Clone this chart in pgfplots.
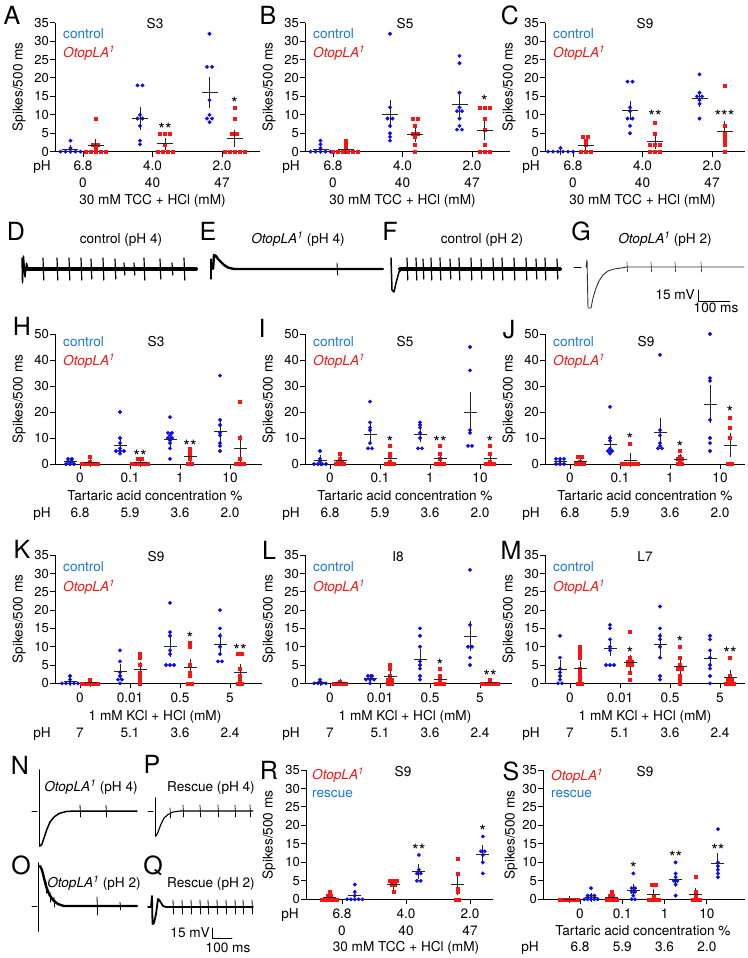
\documentclass[border=0pt]{standalone}
\usepackage{fontspec}
\setmainfont{TeX Gyre Heros}
\usepackage{pgfplots}
\pgfplotsset{compat=1.18}
\definecolor{cblue}{RGB}{10,10,245}
\definecolor{cred}{RGB}{250,20,20}
\definecolor{lblue}{RGB}{25,120,215}
\newcommand{\fs}{\fontsize{13.6}{15}\selectfont}
\newcommand{\fk}{\fontsize{13}{15}\selectfont}
\newcommand{\ft}{\fontsize{13.6}{15}\selectfont}
\newcommand{\T}[4][]{\node[anchor=base,inner sep=0pt,font=\fs,yshift=-4.9pt,#1] at (#2pt,-#3pt) {#4};}
\newcommand{\PL}[3]{\node[anchor=base,inner sep=0pt,font=\fontsize{25}{28}\selectfont,yshift=-9pt] at (#1pt,-#2pt) {#3};}
\newcommand{\Ot}{\textit{OtopLA\textsuperscript{1}}}
\newcommand{\YL}[2]{\node[rotate=90,font=\fs,inner sep=0pt] at (#1pt,-#2pt) {Spikes/500 ms};}
\tikzset{st/.style={font=\fontsize{17}{18}\selectfont, inner sep=0pt, yshift=-3.7pt}}
\pgfplotsset{
 sc/.style={anchor=south west, axis lines=left, axis line style={-,line width=1pt}, tick style={line width=1pt,black}, tick align=outside, major tick length=5pt, ymin=0, clip=false, xticklabels={}, yticklabel style={font=\fk, inner sep=0pt, xshift=-1pt}, /pgf/number format/assume math mode=true},
 bpt/.style={only marks, mark=*, mark size=1.75pt, color=cblue, mark options={draw=none, fill=cblue}},
 rpt/.style={only marks, mark=square*, mark size=1.5pt, color=cred, mark options={draw=none, fill=cred}},
 ms/.style={only marks, mark=-, mark size=#1, mark options={line width=1pt, black!85}, black!85, error bars/.cd, y dir=both, y explicit, error bar style={line width=1pt, black!85}, error mark options={line width=1pt, black!85, mark size=3.5pt}},
 ms/.default=8pt,
 tr/.style={black, line join=round, line cap=round},
}
\begin{document}
\begin{tikzpicture}
\path[use as bounding box] (0,0) rectangle (747pt,-958pt);
% ---------------- A
\begin{axis}[sc, at={(55pt,-151.7pt)}, x=69.5pt, y=3.6857pt, xmin=-0.403, xmax=2.547, ymax=35, ytick={0,5,...,35}, xtick={0,1,2}]
\addplot[bpt] coordinates {(-0.18,3)(-0.18,1)(-0.324,0)(-0.252,0)(-0.18,0)(-0.108,0)(-0.036,0)
(0.784,18)(0.856,18)(0.82,10)(0.784,9)(0.856,9)(0.82,7)(0.82,3)(0.82,2)
(1.82,32)(1.784,23)(1.856,23)(1.82,14)(1.82,10)(1.784,9)(1.856,9)(1.82,8)};
\addplot[rpt] coordinates {(0.18,9)(0.144,2)(0.216,2)(0.18,1)(0.036,0)(0.108,0)(0.18,0)(0.252,0)(0.324,0)
(1.108,5)(1.18,5)(1.252,5)(1.18,2)(1.072,0)(1.144,0)(1.216,0)(1.288,0)
(2.18,12)(2.18,9)(2.144,5)(2.216,5)(2.036,0)(2.108,0)(2.18,0)(2.252,0)(2.324,0)};
\addplot[ms] coordinates {(-0.18,0.6)+-(0,0.4)(0.82,9.1)+-(0,2.2)(1.82,16)+-(0,3.2)(0.18,1.6)+-(0,0.8)(1.18,2.1)+-(0,0.6)(2.18,3.6)+-(0,1.4)};
\node[st] at (axis cs:1.18,7) {**};
\node[st] at (axis cs:2.18,14.2) {*};
\end{axis}
% ---------------- B
\begin{axis}[sc, at={(305pt,-151.7pt)}, x=69.5pt, y=3.6857pt, xmin=-0.403, xmax=2.547, ymax=35, ytick={0,5,...,35}, xtick={0,1,2}]
\addplot[bpt] coordinates {(-0.18,3)(-0.18,2)(-0.18,1)(-0.324,0)(-0.252,0)(-0.18,0)(-0.108,0)(-0.036,0)
(0.82,32)(0.82,12)(0.784,9)(0.856,9)(0.82,7)(0.82,5)(0.82,4)(0.82,3)
(1.82,26)(1.82,24)(1.82,16)(1.82,12)(1.784,11)(1.856,11)(1.82,9)(1.82,7)(1.784,6)(1.856,6)};
\addplot[rpt] coordinates {(0.18,3)(0.18,2)(0.18,1)(0.0,0)(0.072,0)(0.144,0)(0.216,0)(0.288,0)(0.36,0)
(1.144,9)(1.216,9)(1.18,7)(1.144,5)(1.216,5)(1.18,4)(1.18,2)(1.18,0)
(2.108,12)(2.18,12)(2.252,12)(2.18,9)(2.18,6)(2.18,2)(2.108,0)(2.18,0)(2.252,0)};
\addplot[ms] coordinates {(-0.18,0.7)+-(0,0.35)(0.82,10.2)+-(0,2.8)(1.82,12.7)+-(0,2.2)(0.18,0.5)+-(0,0.3)(1.18,4.6)+-(0,1.0)(2.18,5.8)+-(0,1.8)};
\node[st] at (axis cs:2.18,14.6) {*};
\end{axis}
% ---------------- C
\begin{axis}[sc, at={(545pt,-151.7pt)}, x=69.5pt, y=3.6857pt, xmin=-0.403, xmax=2.475, ymax=35, ytick={0,5,...,35}, xtick={0,1,2}]
\addplot[bpt] coordinates {(-0.18,1)(-0.36,0)(-0.288,0)(-0.216,0)(-0.144,0)(-0.072,0)(0.0,0)
(0.784,19)(0.856,19)(0.82,12)(0.82,11)(0.784,9)(0.856,9)(0.82,7)(0.82,5)
(1.82,21)(1.82,16)(1.784,15)(1.856,15)(1.82,14)(1.82,13)(1.82,9)};
\addplot[rpt] coordinates {(0.144,4)(0.216,4)(0.18,3)(0.18,2)(0.108,0)(0.18,0)(0.252,0)
(1.18,8)(1.18,5)(1.108,2)(1.18,2)(1.252,2)(1.108,0)(1.18,0)(1.252,0)
(2.18,18)(2.18,7)(2.18,5)(2.18,4)(2.18,3)(2.18,2)(2.18,0)};
\addplot[ms] coordinates {(-0.18,0.15)+-(0,0.15)(0.82,11.1)+-(0,1.6)(1.82,14.3)+-(0,1.3)(0.18,1.6)+-(0,0.6)(1.18,2.8)+-(0,1.0)(2.18,5.5)+-(0,1.9)};
\node[st] at (axis cs:1.18,10.6) {**};
\node[st] at (axis cs:2.18,10.6) {***};
\end{axis}
% ---------------- H
\begin{axis}[sc, at={(55pt,-464pt)}, x=50pt, y=2.6pt, xmin=-0.5, xmax=3.64, ymax=50, ytick={0,10,...,50}, xtick={0,1,2,3}]
\addplot[bpt] coordinates {(-0.24,2)(-0.16,2)(-0.24,1)(-0.16,1)(-0.28,0)(-0.2,0)(-0.12,0)
(0.8,20)(0.8,10)(0.8,8)(0.8,6)(0.72,5)(0.8,5)(0.88,5)(0.8,4)
(1.8,18)(1.76,12)(1.84,12)(1.8,11)(1.76,10)(1.84,10)(1.8,9)(1.8,8)(1.8,6)(1.8,2)
(2.8,34)(2.8,17)(2.8,15)(2.8,12)(2.8,11)(2.8,8)(2.8,7)(2.8,5)};
\addplot[rpt] coordinates {(0.2,3)(0.2,1)(0.04,0)(0.12,0)(0.2,0)(0.28,0)(0.36,0)
(1.16,2)(1.24,2)(1.04,0)(1.12,0)(1.2,0)(1.28,0)(1.36,0)
(2.2,6)(2.2,5)(2.2,4)(2.2,3)(2.2,2)(2.16,0)(2.24,0)
(3.2,24)(3.2,10)(3.2,2)(3.12,0)(3.2,0)(3.28,0)};
\addplot[ms=6.5pt] coordinates {(-0.2,0.8)+-(0,0.3)(0.8,7.3)+-(0,1.6)(1.8,9.4)+-(0,1.4)(2.8,12.6)+-(0,3.2)(0.2,0.5)+-(0,0.4)(1.2,0.5)+-(0,0.3)(2.2,2.8)+-(0,0.8)(3.2,5.8)+-(0,4.0)};
\node[st] at (axis cs:1.2,4.4) {**};
\node[st] at (axis cs:2.2,8.2) {**};
\end{axis}
% ---------------- I
\begin{axis}[sc, at={(305pt,-464pt)}, x=50pt, y=2.6pt, xmin=-0.5, xmax=3.64, ymax=50, ytick={0,10,...,50}, xtick={0,1,2,3}]
\addplot[bpt] coordinates {(-0.2,5)(-0.2,2)(-0.2,1)(-0.32,0)(-0.24,0)(-0.16,0)(-0.08,0)
(0.8,24)(0.8,16)(0.8,14)(0.8,13)(0.8,8)(0.76,6)(0.84,6)
(1.8,16)(1.8,15)(1.8,14)(1.8,12)(1.8,10)(1.76,6)(1.84,6)
(2.8,45)(2.8,36)(2.8,13)(2.8,12)(2.76,7)(2.84,7)};
\addplot[rpt] coordinates {(0.2,4)(0.2,2)(0.16,1)(0.24,1)(0.12,0)(0.2,0)(0.28,0)
(1.2,7)(1.2,4)(1.2,3)(1.2,1)(1.12,0)(1.2,0)(1.28,0)
(2.2,7)(2.2,4)(2.2,2)(2.12,0)(2.2,0)(2.28,0)
(3.2,7)(3.2,4)(3.2,1)(3.12,0)(3.2,0)(3.28,0)};
\addplot[ms=6.5pt] coordinates {(-0.2,1.3)+-(0,0.8)(0.8,11.5)+-(0,2.6)(1.8,11.5)+-(0,1.8)(2.8,20)+-(0,6.5)(0.2,1.2)+-(0,0.6)(1.2,2.3)+-(0,1.0)(2.2,2.3)+-(0,1.0)(3.2,2.0)+-(0,1.2)};
\node[st] at (axis cs:1.2,9.9) {*};
\node[st] at (axis cs:2.2,9.9) {**};
\node[st] at (axis cs:3.2,9.9) {*};
\end{axis}
% ---------------- J
\begin{axis}[sc, at={(545pt,-464pt)}, x=50pt, y=2.6pt, xmin=-0.5, xmax=3.5, ymax=50, ytick={0,10,...,50}, xtick={0,1,2,3}]
\addplot[bpt] coordinates {(-0.28,2)(-0.2,2)(-0.12,2)(-0.2,1)(-0.28,0)(-0.2,0)(-0.12,0)
(0.8,22)(0.8,10)(0.8,9)(0.8,6)(0.76,5)(0.84,5)(0.8,4)
(1.8,42)(1.8,13)(1.8,11)(1.8,8)(1.8,7)(1.76,6)(1.84,6)
(2.8,50)(2.8,33)(2.8,32)(2.8,17)(2.8,10)(2.8,8)(2.8,5)};
\addplot[rpt] coordinates {(0.16,3)(0.24,3)(0.2,1)(0.12,0)(0.2,0)(0.28,0)
(1.2,8)(1.04,0)(1.12,0)(1.2,0)(1.28,0)(1.36,0)
(2.2,5)(2.2,3)(2.16,2)(2.24,2)(2.2,1)(2.16,0)(2.24,0)
(3.2,18)(3.2,14)(3.2,10)(3.16,0)(3.24,0)};
\addplot[ms=6.5pt] coordinates {(-0.2,0.9)+-(0,0.3)(0.8,7.5)+-(0,2.4)(1.8,12.1)+-(0,4.4)(2.8,23)+-(0,6)(0.2,1.0)+-(0,0.5)(1.2,1.5)+-(0,1.2)(2.2,1.8)+-(0,0.7)(3.2,7.3)+-(0,3.1)};
\node[st] at (axis cs:1.2,10.8) {*};
\node[st] at (axis cs:2.2,7.7) {*};
\node[st] at (axis cs:3.2,21.2) {*};
\end{axis}
% ---------------- K
\begin{axis}[sc, at={(55pt,-683.3pt)}, x=50pt, y=3.657pt, xmin=-0.5, xmax=3.64, ymax=35, ytick={0,5,...,35}, xtick={0,1,2,3}]
\addplot[bpt] coordinates {(-0.2,2)(-0.2,1)(-0.36,0)(-0.28,0)(-0.2,0)(-0.12,0)(-0.04,0)
(0.8,9)(0.8,6)(0.8,3)(0.8,2)(0.76,1)(0.84,1)(0.8,0)
(1.8,22)(1.8,14)(1.8,13)(1.8,9)(1.8,8)(1.72,5)(1.8,5)(1.88,5)
(2.8,20)(2.8,15)(2.8,13)(2.8,10)(2.8,8)(2.76,6)(2.84,6)};
\addplot[rpt] coordinates {(0.2,1)(0.04,0)(0.12,0)(0.2,0)(0.28,0)(0.36,0)
(1.2,8)(1.2,7)(1.2,5)(1.2,3)(1.2,2)(1.2,1)(1.2,0)
(2.2,11)(2.2,10)(2.2,5)(2.2,3)(2.2,2)(2.16,0)(2.24,0)
(3.16,8)(3.24,8)(3.2,4)(3.2,2)(3.2,1)(3.16,0)(3.24,0)};
\addplot[ms=6.5pt] coordinates {(-0.2,0.4)+-(0,0.3)(0.8,3.1)+-(0,1.3)(1.8,10.1)+-(0,2.0)(2.8,10.7)+-(0,2.0)(0.2,0.2)+-(0,0.2)(1.2,3.7)+-(0,1.1)(2.2,4.2)+-(0,1.6)(3.2,3.0)+-(0,1.2)};
\node[st] at (axis cs:2.2,13.2) {*};
\node[st] at (axis cs:3.2,10) {**};
\end{axis}
% ---------------- L
\begin{axis}[sc, at={(305pt,-683.3pt)}, x=50pt, y=3.657pt, xmin=-0.5, xmax=3.64, ymax=35, ytick={0,5,...,35}, xtick={0,1,2,3}]
\addplot[bpt] coordinates {(-0.2,1)(-0.2,0.5)(-0.32,0)(-0.24,0)(-0.16,0)(-0.08,0)
(0.76,2)(0.84,2)(0.72,1)(0.8,1)(0.88,1)(0.8,0)
(1.8,15)(1.8,13)(1.8,10)(1.8,6)(1.8,5)(1.8,4)(1.8,2)(1.8,1)
(2.8,31)(2.8,16)(2.76,10)(2.84,10)(2.8,7)(2.8,5)};
\addplot[rpt] coordinates {(0.2,0.5)(0.08,0)(0.16,0)(0.24,0)(0.32,0)
(1.2,5)(1.2,4)(1.2,2)(1.16,1)(1.24,1)(1.16,0)(1.24,0)
(2.2,4)(2.2,2)(2.2,1)(2.12,0)(2.2,0)(2.28,0)
(3.2,1)(3.04,0)(3.12,0)(3.2,0)(3.28,0)(3.36,0)};
\addplot[ms=6.5pt] coordinates {(-0.2,0.3)+-(0,0.2)(0.8,1.2)+-(0,0.3)(1.8,6.6)+-(0,1.8)(2.8,12.9)+-(0,3.2)(0.2,0.2)+-(0,0.1)(1.2,1.9)+-(0,0.7)(2.2,1.1)+-(0,0.6)(3.2,0.3)+-(0,0.2)};
\node[st] at (axis cs:2.2,5.9) {*};
\node[st] at (axis cs:3.2,3.0) {**};
\end{axis}
% ---------------- M
\begin{axis}[sc, at={(545pt,-683.3pt)}, x=50pt, y=3.657pt, xmin=-0.5, xmax=3.5, ymax=35, ytick={0,5,...,35}, xtick={0,1,2,3}]
\addplot[bpt] coordinates {(-0.2,13)(-0.2,7)(-0.2,4)(-0.2,3)(-0.2,2)(-0.2,1)(-0.24,0)(-0.16,0)
(0.8,16)(0.8,15)(0.8,12)(0.8,10)(0.8,9)(0.72,5)(0.8,5)(0.88,5)
(1.8,21)(1.8,15)(1.8,13)(1.8,12)(1.8,10)(1.8,7)(1.8,2)(1.8,1)
(2.8,13)(2.8,12)(2.8,9)(2.8,7)(2.8,5)(2.8,4)(2.8,2)(2.8,0)};
\addplot[rpt] coordinates {(0.2,10)(0.2,9)(0.2,8)(0.2,7)(0.2,4)(0.2,3)(0.2,2)(0.2,1)(0.16,0)(0.24,0)
(1.2,14)(1.2,7)(1.16,6)(1.24,6)(1.16,5)(1.24,5)(1.2,3)(1.2,1)
(2.2,10)(2.2,7)(2.2,5)(2.16,4)(2.24,4)(2.2,2)(2.2,1)(2.2,0)
(3.2,7)(3.2,2)(3.16,1)(3.24,1)(3.12,0)(3.2,0)(3.28,0)};
\addplot[ms=6.5pt] coordinates {(-0.2,3.8)+-(0,1.5)(0.8,9.5)+-(0,1.2)(1.8,10.6)+-(0,2.2)(2.8,6.8)+-(0,1.4)(0.2,4.0)+-(0,1.2)(1.2,5.6)+-(0,1.3)(2.2,4.5)+-(0,1.0)(3.2,1.7)+-(0,0.9)};
\node[st] at (axis cs:1.2,9.1) {*};
\node[st] at (axis cs:2.2,12.3) {*};
\node[st] at (axis cs:3.2,9.1) {**};
\end{axis}
% ---------------- R
\begin{axis}[sc, at={(306pt,-899.3pt)}, x=64pt, y=3.694pt, xmin=-0.5625, xmax=2.36, ymax=35, ytick={0,5,...,35}, xtick={0,1,2}]
\addplot[rpt] coordinates {(-0.2,2)(-0.23,1)(-0.17,1)(-0.32,0)(-0.26,0)(-0.2,0)(-0.14,0)(-0.08,0)
(0.74,5)(0.8,5)(0.86,5)(0.77,4)(0.83,4)(0.8,2)
(1.8,11)(1.8,7)(1.8,3)(1.8,2)(1.77,0)(1.83,0)};
\addplot[bpt] coordinates {(0.2,4)(0.2,2)(0.2,1)(0.08,0)(0.14,0)(0.2,0)(0.26,0)(0.32,0)
(1.2,12)(1.2,8)(1.17,7)(1.23,7)(1.17,5)(1.23,5)
(2.2,17)(2.17,13)(2.23,13)(2.2,12)(2.2,10)(2.2,7)};
\addplot[ms=6.5pt] coordinates {(-0.2,0.5)+-(0,0.3)(0.8,4.1)+-(0,0.5)(1.8,3.9)+-(0,1.8)(0.2,1.1)+-(0,0.6)(1.2,7.6)+-(0,1.1)(2.2,12.2)+-(0,1.5)};
\node[st] at (axis cs:1.2,14.4) {**};
\node[st] at (axis cs:2.2,19.4) {*};
\end{axis}
% ---------------- S
\begin{axis}[sc, at={(543pt,-899.3pt)}, x=42.3pt, y=3.694pt, xmin=-0.875, xmax=3.9, ymax=35, ytick={0,5,...,35}, xtick={0,1,2,3}]
\addplot[rpt] coordinates {(-0.47,0)(-0.40,0)(-0.33,0)(-0.26,0)(-0.19,0)(-0.12,0)(-0.05,0)
(0.74,2)(0.70,1)(0.78,1)(0.62,0)(0.70,0)(0.78,0)(0.86,0)
(1.70,4)(1.78,4)(1.74,1)(1.62,0)(1.70,0)(1.78,0)(1.86,0)
(2.74,6)(2.74,2)(2.74,1)(2.66,0)(2.74,0)(2.82,0)};
\addplot[bpt] coordinates {(0.26,3)(0.18,1)(0.26,1)(0.34,1)(0.10,0)(0.18,0)(0.26,0)(0.34,0)(0.42,0)
(1.26,7)(1.22,3)(1.30,3)(1.22,2)(1.30,2)(1.26,1)(1.22,0)(1.30,0)
(2.26,10)(2.26,7)(2.26,6)(2.22,5)(2.30,5)(2.26,4)(2.26,1)
(3.26,19)(3.26,10)(3.26,9)(3.26,8)(3.26,7)(3.26,6)};
\addplot[ms=6.5pt] coordinates {(-0.26,0)+-(0,0)(0.74,0.5)+-(0,0.3)(1.74,1.2)+-(0,0.7)(2.74,1.3)+-(0,0.8)(0.26,0.5)+-(0,0.3)(1.26,2.4)+-(0,0.8)(2.26,5.4)+-(0,1.0)(3.26,9.7)+-(0,1.9)};
\node[st] at (axis cs:1.26,9.3) {*};
\node[st] at (axis cs:2.26,12.3) {**};
\node[st] at (axis cs:3.26,14.2) {**};
\end{axis}
% ---------------- traces overlay
\begin{axis}[at={(0pt,0pt)}, anchor=north west, hide axis, x=1pt, y=1pt, xmin=0, xmax=747, ymin=0, ymax=958, y dir=reverse, clip=false]
% D
\addplot[tr, line width=4pt] coordinates {(27,269)(196,269)};
\addplot[tr, line width=1.4pt] coordinates {(22,258)(22.5,283)(23.5,256)(25,277)(26.5,263)(28,269)};
\addplot[tr, line width=1.2pt, unbounded coords=jump] coordinates {(43,258)(43.8,280)(43,nan)(57,258)(57.8,280)(57,nan)(69,258)(69.8,280)(69,nan)(81,258)(81.8,280)(81,nan)(91,259)(91.8,279)(91,nan)(103,258)(103.8,280)(103,nan)(115,259)(115.8,279)(115,nan)(124,263)(124.8,275)(124,nan)(134,263)(134.8,275)(134,nan)(144,258)(144.8,280)(144,nan)(160,259)(160.8,279)(160,nan)(172,263)(172.8,275)(172,nan)(184,258)(184.8,280)};
% E
\addplot[tr, line width=1.2pt] coordinates {(211,259)(211,279)};
\addplot[tr, line width=2.4pt] coordinates {(213,269)(214,255)(216,256)(218,259)(221,262)(224,265)(228,267.5)(234,269)(383,269)};
\addplot[tr, line width=0.9pt] coordinates {(337,263)(337.6,275)};
% F
\addplot[tr, line width=4pt] coordinates {(400,269)(560,269)};
\addplot[tr, line width=1.5pt] coordinates {(391,258)(392,290)(394,292)(396,283)(399,272)(402,269)};
\addplot[tr, line width=1.2pt, unbounded coords=jump] coordinates {(407,258)(407.8,280)(407,nan)(416,258)(416.8,280)(416,nan)(423,259)(423.8,279)(423,nan)(431,258)(431.8,280)(431,nan)(440,258)(440.8,280)(440,nan)(450,259)(450.8,279)(450,nan)(459,258)(459.8,280)(459,nan)(471,258)(471.8,280)(471,nan)(481,259)(481.8,279)(481,nan)(493,258)(493.8,280)(493,nan)(502,258)(502.8,280)(502,nan)(514,258)(514.8,280)(514,nan)(526,258)(526.8,280)(526,nan)(536,259)(536.8,279)(536,nan)(545,258)(545.8,280)(545,nan)(557,259)(557.8,279)};
% G
\addplot[tr, line width=1pt] coordinates {(574,267)(581,267)};
\addplot[tr, black!80, line width=0.9pt] coordinates {(586,267)(587,260)(588,308)(591,308)(593,298)(596,288)(599,281)(603,275)(608,271)(614,269)(621,268)(627,267)(744,267)};
\addplot[tr, black!80, line width=0.6pt, unbounded coords=jump] coordinates {(627,262)(627.6,272)(627,nan)(651,262)(651.6,272)(651,nan)(675,262)(675.6,272)(675,nan)(701,262)(701.6,272)};
\addplot[tr, line width=0.9pt] coordinates {(698,290)(698,301)(730,301)};
% N
\addplot[tr, line width=1pt] coordinates {(32,811)(37,811)};
\addplot[tr, line width=1.8pt] coordinates {(39.5,770)(39.5,846)};
\addplot[tr, line width=1.5pt] coordinates {(40,846)(42,844)(44,838)(47,829)(50,822)(54,817)(59,813.5)(66,811.5)(74,811)(137,811)};
\addplot[tr, line width=0.8pt, unbounded coords=jump] coordinates {(80,805)(80.6,817)(80,nan)(106,805)(106.6,817)};
% P
\addplot[tr, line width=1pt] coordinates {(148,811)(153,811)};
\addplot[tr, line width=1.5pt] coordinates {(155.5,798)(155.5,836)};
\addplot[tr, line width=1.1pt] coordinates {(156,836)(158,832)(161,824)(164,818)(168,814.5)(173,812)(180,811)(253,811)};
\addplot[tr, line width=0.7pt, unbounded coords=jump] coordinates {(170,808)(170.6,818)(170,nan)(183,805)(183.6,817)(183,nan)(200,805)(200.6,817)(200,nan)(218,805)(218.6,817)(218,nan)(235,805)(235.6,817)(235,nan)(250,805)(250.6,817)};
% O
\addplot[tr, line width=1pt] coordinates {(32,906)(37,906)};
\addplot[tr, line width=1.8pt] coordinates {(38.5,863)(38.5,931)};
\addplot[tr, line width=2.4pt] coordinates {(40,866)(42,870)(44,878)(46,886)(49,894)(53,900)(58,904)(64,906)(137,906)};
\addplot[tr, line width=0.8pt, unbounded coords=jump] coordinates {(46,881)(46.6,893)(46,nan)(50,892)(50.6,902)(50,nan)(54,897)(54.6,907)(54,nan)(97,897)(97.6,915)(97,nan)(120,902)(120.6,910)};
% Q
\addplot[tr, line width=1.8pt] coordinates {(148,907)(151,907)(152,896)(152.5,924)(154,923)(156,914)(158,899)(160,901)(163,906)(166,907)(253,907)};
\addplot[tr, line width=0.8pt, unbounded coords=jump] coordinates {(173,900)(173.6,914)(173,nan)(182,900)(182.6,914)(182,nan)(191,900)(191.6,914)(191,nan)(200,900)(200.6,914)(200,nan)(208,900)(208.6,914)(208,nan)(217,900)(217.6,914)(217,nan)(226,900)(226.6,914)(226,nan)(235,900)(235.6,914)(235,nan)(243,900)(243.6,914)(243,nan)(252,900)(252.6,914)};
\addplot[tr, line width=0.9pt] coordinates {(212,928)(212,938)(232,938)};
\end{axis}
% ---------------- texts
\PL{12}{15.5}{A}\PL{268}{15.5}{B}\PL{510}{15.5}{C}
\PL{16}{231}{D}\PL{208}{231}{E}\PL{390}{231}{F}\PL{581}{231}{G}
\PL{22}{326}{H}\PL{262}{328}{I}\PL{509}{329}{J}
\PL{22}{549}{K}\PL{269}{550}{L}\PL{511}{550}{M}
\PL{20}{765}{N}\PL{152}{764}{P}\PL{21}{865}{O}\PL{153}{865}{Q}\PL{269}{770}{R}\PL{511}{771}{S}
% titles
\T{155}{24}{S3}\T{405}{24}{S5}\T{645}{24}{S9}
\T{156}{342}{S3}\T{405}{342}{S5}\T{646}{342}{S9}
\T{156}{557}{S9}\T{398}{557}{I8}\T{645}{557}{L7}
\T{403}{772}{S9}\T{645}{772}{S9}
% legends
\T[anchor=base west,text=lblue]{63}{34}{control}\T[anchor=base west,text=cred]{63}{53}{\Ot}
\T[anchor=base west,text=lblue]{313}{34}{control}\T[anchor=base west,text=cred]{313}{53}{\Ot}
\T[anchor=base west,text=lblue]{553}{34}{control}\T[anchor=base west,text=cred]{553}{53}{\Ot}
\T[anchor=base west,text=lblue]{63}{342}{control}\T[anchor=base west,text=cred]{63}{361}{\Ot}
\T[anchor=base west,text=lblue]{313}{342}{control}\T[anchor=base west,text=cred]{313}{361}{\Ot}
\T[anchor=base west,text=lblue]{553}{342}{control}\T[anchor=base west,text=cred]{553}{361}{\Ot}
\T[anchor=base west,text=lblue]{63}{567}{control}\T[anchor=base west,text=cred]{63}{587}{\Ot}
\T[anchor=base west,text=lblue]{313}{567}{control}\T[anchor=base west,text=cred]{313}{587}{\Ot}
\T[anchor=base west,text=lblue]{553}{567}{control}\T[anchor=base west,text=cred]{553}{587}{\Ot}
\T[anchor=base west,text=cred]{312}{775}{\Ot}\T[anchor=base west,text=lblue]{312}{793}{rescue}
\T[anchor=base west,text=cred]{551}{776}{\Ot}\T[anchor=base west,text=lblue]{551}{793}{rescue}
% y labels
\YL{19}{87}\YL{269}{87}\YL{509}{87}
\YL{19}{399}\YL{269}{399}\YL{509}{399}
\YL{19}{619}\YL{269}{619}\YL{509}{619}
\YL{269}{835}\YL{511}{835}
% row 1 x labels
\T{42}{165.5}{pH}\T{83}{165.5}{6.8}\T{152.5}{165.5}{4.0}\T{222}{165.5}{2.0}
\T{83}{183}{0}\T{152.5}{183}{40}\T{222}{183}{47}\T{152.5}{200}{30 mM TCC + HCl (mM)}
\T{291}{165.5}{pH}\T{333}{165.5}{6.8}\T{402.5}{165.5}{4.0}\T{472}{165.5}{2.0}
\T{333}{183}{0}\T{402.5}{183}{40}\T{472}{183}{47}\T{402.5}{200}{30 mM TCC + HCl (mM)}
\T{531}{165.5}{pH}\T{573}{165.5}{6.8}\T{642.5}{165.5}{4.0}\T{712}{165.5}{2.0}
\T{573}{183}{0}\T{642.5}{183}{40}\T{712}{183}{47}\T{642.5}{200}{30 mM TCC + HCl (mM)}
% row 3 x labels
\T{80}{478}{0}\T{130}{478}{0.1}\T{180}{478}{1}\T{230}{478}{10}\T{155}{496}{Tartaric acid concentration \%}
\T{42}{513}{pH}\T{80}{513}{6.8}\T{130}{513}{5.9}\T{180}{513}{3.6}\T{230}{513}{2.0}
\T{330}{478}{0}\T{380}{478}{0.1}\T{430}{478}{1}\T{480}{478}{10}\T{405}{496}{Tartaric acid concentration \%}
\T{291}{513}{pH}\T{330}{513}{6.8}\T{380}{513}{5.9}\T{430}{513}{3.6}\T{480}{513}{2.0}
\T{570}{478}{0}\T{620}{478}{0.1}\T{670}{478}{1}\T{720}{478}{10}\T{645}{496}{Tartaric acid concentration \%}
\T{531}{513}{pH}\T{570}{513}{6.8}\T{620}{513}{5.9}\T{670}{513}{3.6}\T{720}{513}{2.0}
% row 4 x labels
\T{80}{698}{0}\T{130}{698}{0.01}\T{180}{698}{0.5}\T{230}{698}{5}\T{155}{716}{1 mM KCl + HCl (mM)}
\T{42}{733}{pH}\T{80}{733}{7}\T{130}{733}{5.1}\T{180}{733}{3.6}\T{230}{733}{2.4}
\T{330}{698}{0}\T{380}{698}{0.01}\T{430}{698}{0.5}\T{480}{698}{5}\T{405}{716}{1 mM KCl + HCl (mM)}
\T{291}{733}{pH}\T{330}{733}{7}\T{380}{733}{5.1}\T{430}{733}{3.6}\T{480}{733}{2.4}
\T{570}{698}{0}\T{620}{698}{0.01}\T{670}{698}{0.5}\T{720}{698}{5}\T{645}{716}{1 mM KCl + HCl (mM)}
\T{531}{733}{pH}\T{570}{733}{7}\T{620}{733}{5.1}\T{670}{733}{3.6}\T{720}{733}{2.4}
% R, S x labels
\T{290}{914}{pH}\T{342}{914}{6.8}\T{406}{914}{4.0}\T{470}{914}{2.0}
\T{342}{930.5}{0}\T{406}{930.5}{40}\T{470}{930.5}{47}\T{406}{947}{30 mM TCC + HCl (mM)}
\T{580}{914}{0}\T{622.3}{914}{0.1}\T{664.6}{914}{1}\T{706.9}{914}{10}\T{643}{930.5}{Tartaric acid concentration \%}
\T{530}{947}{pH}\T{580}{947}{6.8}\T{622.3}{947}{5.9}\T{664.6}{947}{3.6}\T{706.9}{947}{2.0}
% trace titles
\T[font=\ft]{121}{239}{control (pH 4)}\T[font=\ft]{298}{239}{\Ot{} (pH 4)}
\T[font=\ft]{482}{239}{control (pH 2)}\T[font=\ft]{665}{239}{\Ot{} (pH 2)}
\T[font=\ft]{91}{787}{\Ot{} (pH 4)}\T[font=\ft]{211}{787}{Rescue (pH 4)}
\T[font=\ft]{94}{883}{\Ot{} (pH 2)}\T[font=\ft]{211}{883}{Rescue (pH 2)}
% scale bar labels
\T[anchor=base east]{695}{295}{15 mV}\T{716}{308}{100 ms}
\T[anchor=base east]{210}{933}{15 mV}\T{228}{948}{100 ms}
\end{tikzpicture}
\end{document}
